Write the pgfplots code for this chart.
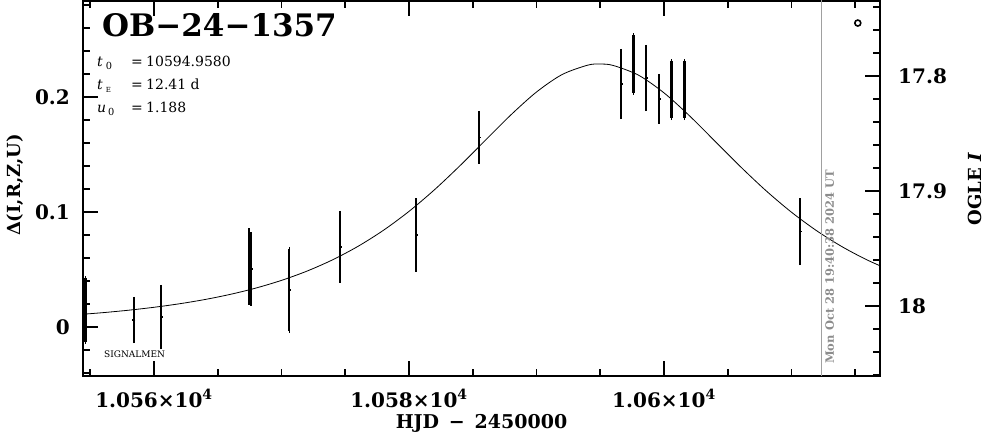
\documentclass[border=0pt]{standalone}
\usepackage{fontspec}
\setmainfont{DejaVu Serif}
\usepackage{pgfplots}
\pgfplotsset{compat=1.18}
\definecolor{nowgray}{RGB}{160,160,160}
\definecolor{txtgray}{RGB}{140,140,140}

\begin{document}
\begin{tikzpicture}[x=1pt,y=1pt]
\useasboundingbox (0,0) rectangle (986,434);

% left axis: Delta magnitude vs HJD
\begin{axis}[
    at={(83pt,58pt)}, anchor=south west,
    scale only axis, width=797pt, height=375pt,
    xmin=10554.431, xmax=10616.941,
    ymin=-0.04261, ymax=0.28348,
    scaled x ticks=false, scaled y ticks=false,
    axis line style={line width=2pt},
    tick align=inside,
    major tick length=15pt, minor tick length=7pt,
    every tick/.style={black, line width=1.6pt},
    xtick={10560,10580,10600},
    xticklabels={1.056×10\textsuperscript{4},1.058×10\textsuperscript{4},1.06×10\textsuperscript{4}},
    minor xtick={10555,10565,10570,10575,10585,10590,10595,10605,10610,10615},
    xtick pos=both,
    ytick={0,0.1,0.2},
    yticklabels={0,0.1,0.2},
    minor ytick={-0.04,-0.02,0.02,0.04,0.06,0.08,0.12,0.14,0.16,0.18,0.22,0.24,0.26,0.28},
    ytick pos=left,
    tick label style={font=\fontsize{20}{20}\selectfont\bfseries},
    xticklabel style={inner sep=0pt, anchor=north, yshift=-13pt},
    yticklabel style={inner sep=0pt, anchor=east, xshift=-13pt},
    xlabel={HJD \,−\, 2450000},
    ylabel={Δ(I,R,Z,U)},
    every axis x label/.style={at={(axis description cs:0.5,-0.1387)}, anchor=base,
        font=\fontsize{19}{19}\selectfont\bfseries},
    every axis y label/.style={at={(axis description cs:-0.0853,0.509)}, rotate=90, anchor=center,
        font=\fontsize{18}{18}\selectfont\bfseries},
]
% model light curve (t0=10594.958, tE=12.41, u0=1.188)
\addplot[black, line width=0.8pt, smooth] coordinates {
(10554,0.01072)(10556,0.01248)(10558,0.01459)(10560,0.01714)(10562,0.02020)
(10564,0.02391)(10566,0.02842)(10568,0.03389)(10570,0.04054)(10572,0.04861)
(10574,0.05838)(10576,0.07013)(10578,0.08413)(10580,0.10054)(10582,0.11937)
(10584,0.14029)(10586,0.16249)(10588,0.18453)(10590,0.20434)(10592,0.21948)
(10594,0.22765)(10594.958,0.22864)(10596,0.22747)(10598,0.21897)(10600,0.20358)
(10602,0.18363)(10604,0.16154)(10606,0.13938)(10608,0.11853)(10610,0.09980)
(10612,0.08349)(10614,0.06960)(10616,0.05793)(10618,0.04824)
};
% OGLE photometry
\addplot[black, only marks, mark=-, mark size=1.5pt, mark options={line width=1.5pt},
    error bars/.cd, y dir=both, y explicit, error mark=-,
    error mark options={black, line width=1.5pt, mark size=2pt},
    error bar style={line width=2.4pt}] coordinates {
(10554.62,0.0148) +- (0,0.0278)
(10558.43,0.0061) +- (0,0.0183)
(10560.55,0.0087) +- (0,0.0261)
(10567.47,0.0526) +- (0,0.0317)
(10567.61,0.0504) +- (0,0.0304)
(10570.61,0.0322) +- (0,0.0357)
(10574.59,0.0696) +- (0,0.0296)
(10580.55,0.0800) +- (0,0.0304)
(10585.49,0.1648) +- (0,0.0213)
(10596.63,0.2113) +- (0,0.0287)
(10597.62,0.2287) +- (0,0.0252)
(10598.59,0.2165) +- (0,0.0270)
(10599.61,0.1983) +- (0,0.0200)
(10600.60,0.2065) +- (0,0.0248)
(10601.62,0.2065) +- (0,0.0248)
(10610.67,0.0830) +- (0,0.0274)
};
% current time
\addplot[nowgray, line width=1pt] coordinates {(10612.32,-0.06)(10612.32,0.30)};
\node[txtgray, rotate=90, anchor=north west, inner sep=1pt,
      font=\fontsize{11.5}{11.5}\selectfont\bfseries] at (axis cs:10612.55,-0.033)
      {Mon Oct 28 19:40:38 2024 UT};
\addplot[black, only marks, mark=o, mark size=3pt, line width=1.6pt]
    coordinates {(10615.2,0.2643)};
\end{axis}

% right axis: OGLE I magnitude
\begin{axis}[
    at={(83pt,58pt)}, anchor=south west,
    scale only axis, width=797pt, height=375pt,
    xmin=10554.431, xmax=10616.941,
    ymin=17.73478, ymax=18.06087, y dir=reverse,
    axis x line=none, axis y line*=right,
    axis line style={line width=2pt, -},
    tick align=inside,
    major tick length=15pt, minor tick length=7pt,
    every tick/.style={black, line width=1.6pt},
    ytick={17.8,17.9,18},
    yticklabels={17.8,17.9,18},
    minor ytick={17.74,17.76,17.78,17.82,17.84,17.86,17.88,17.92,17.94,17.96,17.98,18.02,18.04,18.06},
    tick label style={font=\fontsize{20}{20}\selectfont\bfseries},
    yticklabel style={inner sep=0pt, anchor=west, xshift=18pt},
    ylabel={OGLE \textit{I}},
    every axis y label/.style={at={(axis description cs:1.1185,0.4987)}, rotate=90, anchor=center,
        font=\fontsize{18}{18}\selectfont\bfseries},
]
\end{axis}

% event name and fit parameters
\node[anchor=base west, inner sep=0pt, font=\fontsize{31}{31}\selectfont\bfseries] at (102,397) {OB−24−1357};
\begin{scope}[every node/.style={anchor=base west, inner sep=0pt, font=\fontsize{14}{14}\selectfont}]
\node at (97,367) {\textit{t}\hspace{3pt}\textsubscript{0}};
\node at (131,367) {=};
\node at (146,367) {10594.9580};
\node at (97,344) {\textit{t}\hspace{3pt}\textsubscript{\scriptsize E}};
\node at (131,344) {=};
\node at (146,344) {12.41 d};
\node at (97,321) {\textit{u}\hspace{2pt}\textsubscript{0}};
\node at (131,321) {=};
\node at (146,321) {1.188};
\end{scope}
\node[anchor=base west, inner sep=0pt, font=\fontsize{9}{9}\selectfont] at (104,76) {SIGNALMEN};
\end{tikzpicture}
\end{document}
